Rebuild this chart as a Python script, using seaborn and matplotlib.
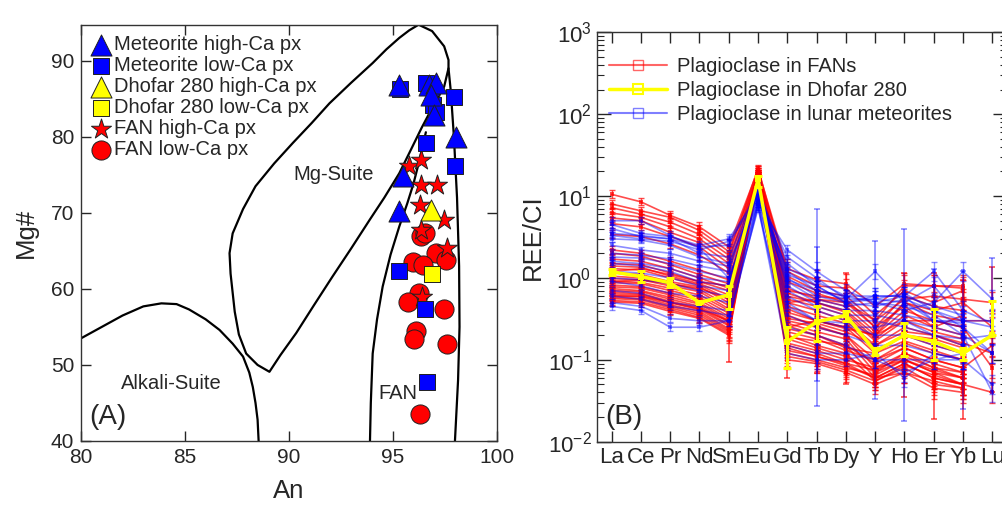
import numpy as np
import pandas as pd
import matplotlib
matplotlib.use("Agg")
import matplotlib.pyplot as plt
from matplotlib.lines import Line2D
import seaborn as sns

# ---------------- Panel A data ----------------
met_hi_an = [95.32, 96.76, 97.09, 96.85, 97.0, 98.05, 95.5, 95.29]
met_hi_mg = [86.8, 86.8, 87.1, 85.5, 82.9, 80.0, 74.8, 70.2]
met_lo_an = [95.35, 96.6, 97.97, 96.92, 97.09, 96.6, 98.0, 95.29, 96.56, 96.64]
met_lo_mg = [86.3, 87.1, 85.2, 84.2, 83.3, 79.2, 76.2, 62.3, 57.3, 47.8]
dho_hi_an = [96.85]
dho_hi_mg = [70.4]
dho_lo_an = [96.9]
dho_lo_mg = [62.0]
fan_hi_an = [95.8, 96.37, 96.37, 97.16, 96.32, 97.45, 96.37, 97.64, 96.4]
fan_hi_mg = [76.1, 77.0, 73.6, 73.6, 71.05, 69.1, 67.8, 65.4, 59.0]
fan_lo_an = [96.37, 96.55, 97.09, 97.57, 95.96, 96.44, 96.28, 95.72, 97.45, 96.12, 96.04, 97.64, 96.32]
fan_lo_mg = [66.9, 67.3, 64.7, 63.8, 63.5, 63.2, 59.4, 58.3, 57.3, 54.4, 53.4, 52.8, 43.5]

# field boundaries (An, Mg#)
mgs_an = [96.25, 96.9, 97.48, 97.69, 97.69, 97.48, 97.0, 96.4, 95.88, 95.32, 94.6, 93.9, 93.0,
          92.1, 91.2, 90.36, 89.6, 89.07, 88.5, 87.95, 87.6, 87.4, 87.2, 87.15, 87.3, 87.8,
          88.4, 89.3, 90.2, 91.1, 91.96, 93.0, 94.04, 94.7, 95.32, 95.8, 96.25]
mgs_mg = [94.74, 93.9, 91.9, 90.1, 89.0, 86.6, 84.3, 81.2, 78.3, 75.2, 72.0, 69.1, 65.3,
          61.6, 57.8, 54.2, 51.3, 49.1, 50.0, 51.5, 54.0, 57.0, 62.0, 64.7, 67.3, 70.5,
          73.5, 76.5, 79.2, 81.8, 84.4, 87.1, 89.7, 91.5, 93.0, 94.0, 94.74]
alk_an = [80.0, 81.0, 82.0, 83.0, 83.87, 84.6, 85.2, 86.0, 86.67, 87.3, 87.8, 88.1, 88.27, 88.4, 88.5, 88.55]
alk_mg = [53.5, 55.0, 56.5, 57.7, 58.1, 58.0, 57.3, 56.0, 54.6, 52.8, 51.1, 49.0, 47.1, 45.0, 42.8, 40.0]
fanl_an = [93.91, 93.95, 94.04, 94.25, 94.52, 94.9, 95.32, 95.7, 96.0, 96.3, 96.6]
fanl_mg = [40.0, 45.0, 51.5, 56.0, 60.3, 64.5, 68.2, 71.2, 73.8, 77.0, 80.6]
fanr_an = [97.69, 97.8, 97.95, 98.1, 98.2, 98.22, 98.15, 98.0]
fanr_mg = [89.0, 86.0, 80.0, 72.0, 63.0, 55.0, 48.0, 40.0]

# ---------------- Panel B data ----------------
elements = ["La", "Ce", "Pr", "Nd", "Sm", "Eu", "Gd", "Tb", "Dy", "Y", "Ho", "Er", "Yb", "Lu"]
nan = np.nan
fan_plag = [
    [10.5, 8.5, 5.8, 4.2, 2.4, 21, 1.3, 0.95, 0.85, 0.45, 0.85, 0.8, 0.8, nan],
    [8.0, 6.6, 5.5, 3.8, 2.1, 19, 1.2, 0.8, 0.75, 0.35, 0.7, 0.5, 0.7, nan],
    [7.2, 6.0, 4.8, 3.4, 1.9, 22, 1.05, 0.7, 0.6, 0.3, 0.55, 0.6, 0.55, 0.5],
    [6.2, 5.5, 4.2, 3.0, 1.7, 18, 0.9, 0.65, 0.5, 0.25, 0.6, 0.45, 0.4, nan],
    [5.4, 5.0, 3.6, 2.7, 1.5, 20, 0.75, 0.55, 0.45, 0.22, 0.5, 0.35, 0.3, 0.3],
    [4.6, 4.2, 3.2, 2.4, 1.3, 17, 0.65, 0.5, 0.4, 0.2, 0.4, 0.3, 0.25, nan],
    [3.4, 3.2, 2.6, 1.9, 1.15, 19, 0.6, 0.5, 0.38, 0.18, 0.35, 0.25, 0.2, nan],
    [2.2, 2.0, 1.6, 1.25, 0.95, 16, 0.55, 0.45, 0.35, 0.17, 0.3, 0.22, 0.18, nan],
    [2.0, 1.85, 1.45, 1.1, 0.85, 18, 0.5, 0.4, 0.3, 0.15, 0.22, 0.2, 0.16, 0.12],
    [1.7, 1.6, 1.3, 1.0, 0.75, 15, 0.45, 0.35, 0.28, 0.13, 0.2, 0.15, 0.12, nan],
    [1.5, 1.45, 1.15, 0.9, 0.7, 19, 0.42, 0.3, 0.25, 0.12, 0.17, 0.13, 0.1, nan],
    [1.4, 1.35, 1.05, 0.85, 0.62, 17, 0.38, 0.3, 0.24, 0.2, 0.3, 0.3, 0.25, 0.08],
    [1.3, 1.25, 1.0, 0.82, 0.55, 20, 0.35, 0.26, 0.2, 0.1, 0.14, 0.1, 0.08, nan],
    [1.15, 1.1, 0.9, 0.78, 0.5, 16, 0.32, 0.28, 0.22, 0.15, 0.25, 0.2, 0.15, nan],
    [1.05, 1.0, 0.85, 0.72, 0.46, 18, 0.3, 0.25, 0.2, 0.08, 0.12, 0.08, 0.06, nan],
    [0.98, 0.95, 0.8, 0.68, 0.42, 17, 0.28, 0.22, 0.18, 0.07, 0.1, 0.07, 0.05, 0.04],
    [0.92, 0.88, 0.75, 0.62, 0.4, 19, 0.26, 0.2, 0.15, 0.06, 0.09, 0.06, 0.05, nan],
    [0.88, 0.85, 0.7, 0.58, 0.37, 15, 0.24, 0.2, 0.14, 0.12, 0.2, 0.18, 0.14, nan],
    [0.82, 0.78, 0.65, 0.54, 0.34, 18, 0.22, 0.18, 0.13, 0.1, 0.16, 0.12, 0.1, nan],
    [0.78, 0.75, 0.62, 0.5, 0.32, 16, 0.2, 0.15, 0.12, 0.055, 0.08, 0.05, 0.045, nan],
    [0.74, 0.7, 0.58, 0.48, 0.3, 20, 0.19, 0.17, 0.15, 0.09, 0.14, 0.1, 0.08, 0.15],
    [0.7, 0.68, 0.55, 0.45, 0.29, 17, 0.18, 0.14, 0.11, 0.07, 0.12, 0.09, 0.07, nan],
    [0.67, 0.64, 0.52, 0.43, 0.27, 18, 0.16, 0.13, 0.1, 0.08, 0.1, 0.07, 0.06, nan],
    [0.64, 0.62, 0.5, 0.41, 0.26, 16, 0.15, 0.12, 0.09, 0.06, 0.09, 0.06, 0.05, nan],
    [0.61, 0.59, 0.47, 0.39, 0.24, 19, 0.14, 0.11, 0.085, 0.06, 0.07, 0.045, 0.04, nan],
    [0.58, 0.56, 0.45, 0.37, 0.23, 17, 0.13, 0.11, 0.09, 0.075, 0.11, 0.08, 0.07, nan],
    [0.56, 0.54, 0.43, 0.35, 0.22, 15, 0.12, 0.1, 0.08, 0.065, 0.1, 0.075, 0.06, nan],
    [0.53, 0.51, 0.41, 0.33, 0.21, 18, 0.11, 0.095, 0.075, 0.055, 0.085, 0.065, 0.05, nan],
    [0.51, 0.49, 0.39, 0.32, 0.2, 16, 0.1, 0.09, 0.07, 0.05, 0.07, 0.055, 0.045, nan],
    [0.6, 0.6, 0.5, 0.42, 0.3, 14, 0.25, 0.3, 0.25, 0.2, 0.5, 0.4, 0.5, 0.25],
    [0.9, 0.95, 0.85, 0.75, 0.55, 21, 0.5, 0.55, 0.5, 0.3, 0.8, 0.8, 0.75, nan],
    [1.2, 1.3, 1.1, 0.9, 0.8, 18, 0.7, 0.6, 0.55, 0.25, 0.45, 0.25, 0.35, nan],
]
met_plag = [
    [5.0, 5.0, 3.3, 2.3, 1.0, 8, 2.2, 1.2, 0.7, 0.5, 0.6, 0.3, 0.25, 0.12],
    [4.5, 3.5, 3.2, 2.5, 3.0, 10, 1.8, 1.0, 0.55, 1.2, 0.5, 0.8, 0.3, nan],
    [4.0, 3.2, 3.0, 2.0, 1.8, 12, 1.5, 0.8, 0.5, 0.6, 0.6, 1.2, 0.4, 0.28],
    [3.3, 3.0, 2.8, 2.2, 2.8, 9, 1.3, 0.9, 0.6, 0.5, 0.4, 0.5, 1.2, 0.55],
    [3.0, 2.9, 2.5, 1.8, 1.5, 11, 1.2, 0.7, 0.55, 0.55, 0.5, 0.3, 0.3, 0.3],
    [3.5, 3.3, 3.0, 2.4, 2.5, 12, 1.1, 0.8, 0.5, 0.55, 0.65, 0.4, 0.3, 0.25],
    [2.5, 2.2, 2.0, 1.6, 1.4, 11, 0.95, 0.7, 0.6, 0.6, 0.6, 0.45, 0.35, nan],
    [2.0, 1.9, 1.7, 1.4, 1.2, 13, 1.0, 0.6, 0.5, 0.45, 0.55, 0.4, 0.25, nan],
    [1.8, 1.75, 1.5, 1.2, 1.0, 9, 0.9, 0.55, 0.45, 0.5, 0.45, 0.35, 0.2, 0.04],
    [1.6, 1.5, 1.3, 1.0, 0.9, 12, 0.8, 0.5, 0.4, 0.4, 0.35, 0.3, 0.28, nan],
    [1.5, 1.4, 1.2, 0.9, 0.8, 14, 0.7, 0.45, 0.35, 0.35, 0.3, 0.25, 0.2, 0.12],
    [1.2, 1.15, 1.0, 0.8, 0.7, 10, 0.6, 0.4, 0.3, 0.3, 0.25, 0.2, 0.15, nan],
    [1.0, 0.95, 0.85, 0.7, 0.6, 11, 0.5, 0.3, 0.28, 0.2, 0.2, 0.15, 0.12, nan],
    [0.9, 0.8, 0.65, 0.6, 0.5, 8, 0.45, 0.3, 0.25, 0.25, 0.3, 0.2, 0.18, 0.2],
    [0.7, 0.65, 0.5, 0.45, 0.4, 9, 0.35, 0.25, 0.2, 0.15, 0.15, 0.12, 0.1, nan],
    [0.6, 0.55, 0.45, 0.4, 0.35, 7, 0.25, 0.2, 0.15, 0.1, 0.1, 0.1, 0.12, nan],
    [0.5, 0.45, 0.32, 0.3, 0.3, 8, 0.15, 0.12, 0.12, 0.1, 0.07, 0.1, 0.1, nan],
    [0.45, 0.4, 0.25, 0.25, 0.3, 7.5, 0.12, 0.1, 0.1, 0.12, 0.06, 0.12, 0.1, 0.05],
]
dhofar_plag = [1.19, 1.04, 0.87, 0.50, 0.62, 16.0, 0.167, 0.29, 0.35, 0.126, 0.20, 0.167, 0.12, 0.20]
dhofar_lo = [1.08, 0.9, 0.78, 0.50, 0.42, 13.0, 0.08, 0.17, 0.30, 0.115, 0.11, 0.10, 0.10, 0.20]
dhofar_hi = [1.30, 1.20, 1.00, 0.50, 0.80, 17.5, 0.25, 0.45, 0.40, 0.14, 0.28, 0.42, 0.14, 0.52]
# typical relative uncertainty per element
fan_relerr = [0.12, 0.1, 0.12, 0.15, 0.25, 0.1, 0.3, 0.3, 0.3, 0.3, 0.35, 0.35, 0.35, 0.35]
met_relerr = [0.1, 0.1, 0.12, 0.12, 0.15, 0.1, 0.15, 0.3, 0.2, 0.25, 0.3, 0.3, 0.3, 0.3]
# large individual error bars: element index, value, low, high
fan_big = [(4, 0.2, 0.095, 0.3), (6, 0.1, 0.06, 0.15), (7, 0.5, 0.07, 1.0), (8, 0.3, 0.05, 1.15),
           (9, 0.08, 0.05, 0.3), (10, 0.3, 0.035, 1.15), (11, 0.2, 0.019, 1.14),
           (12, 0.2, 0.019, 0.95), (13, 0.25, 0.04, 1.35)]
met_big = [(7, 0.8, 0.027, 6.9), (7, 0.5, 0.055, 2.4), (9, 0.5, 0.033, 2.8), (10, 0.6, 0.018, 4.0),
           (11, 0.8, 0.1, 1.29), (12, 0.3, 0.025, 1.2), (13, 0.55, 0.4, 1.77)]

# ---------------- style ----------------
sns.set_style("ticks")
plt.rcParams["font.family"] = ["Liberation Sans", "DejaVu Sans"]
plt.rcParams["mathtext.fontset"] = "custom"
plt.rcParams["mathtext.rm"] = "Liberation Sans"
plt.rcParams["mathtext.it"] = "Liberation Sans:italic"
plt.rcParams["axes.linewidth"] = 1.0
plt.rcParams["axes.edgecolor"] = "#333333"

fig = plt.figure(figsize=(10.03, 5.09), dpi=100)
W, H = 1003.0, 509.0
axA = fig.add_axes([81 / W, 1 - 441 / H, 415.5 / W, 416 / H])
axB = fig.add_axes([597 / W, 1 - 441.7 / H, 410 / W, 409.4 / H])

# ---------------- Panel A ----------------
for xs, ys in [(mgs_an, mgs_mg), (alk_an, alk_mg), (fanl_an, fanl_mg), (fanr_an, fanr_mg)]:
    axA.plot(xs, ys, color="black", lw=1.6, solid_joinstyle="round", zorder=1)

def scat(x, y, marker, s, color, label, z):
    sns.scatterplot(x=x, y=y, marker=marker, s=s, color=color, edgecolor="#202020",
                    linewidth=0.7, ax=axA, zorder=z, legend=False)
    coll = axA.collections[-1]
    coll.set_label(label)
    return coll

h_fl = scat(fan_lo_an, fan_lo_mg, "o", 190, "#ff0000", "FAN low-Ca px", 3)
h_fh = scat(fan_hi_an, fan_hi_mg, "*", 230, "#ff0000", "FAN high-Ca px", 4)
h_ml = scat(met_lo_an, met_lo_mg, "s", 120, "#0000ff", "Meteorite low-Ca px", 5)
h_mh = scat(met_hi_an, met_hi_mg, "^", 230, "#0000ff", "Meteorite high-Ca px", 6)
h_dl = scat(dho_lo_an, dho_lo_mg, "s", 120, "#ffff00", "Dhofar 280 low-Ca px", 7)
h_dh = scat(dho_hi_an, dho_hi_mg, "^", 230, "#ffff00", "Dhofar 280 high-Ca px", 8)

legA = axA.legend(handles=[h_mh, h_ml, h_dh, h_dl, h_fh, h_fl],
                  labels=["Meteorite high-Ca px", "Meteorite low-Ca px", "Dhofar 280 high-Ca px",
                          "Dhofar 280 low-Ca px", "FAN high-Ca px", "FAN low-Ca px"],
                  loc="upper left", bbox_to_anchor=(0.0, 1.0), frameon=False, fontsize=14.5,
                  handlelength=1.0, handletextpad=0.15, labelspacing=0.1, borderaxespad=0.2,
                  borderpad=0.3, scatterpoints=1)

axA.text(92.15, 75.0, "Mg-Suite", fontsize=14.5, ha="center", va="center")
axA.text(84.35, 47.5, "Alkali-Suite", fontsize=14.5, ha="center", va="center")
axA.text(95.23, 46.3, "FAN", fontsize=14.5, ha="center", va="center")
axA.text(80.4, 43.2, "(A)", fontsize=20, ha="left", va="center")

axA.set_xlim(80, 100)
axA.set_ylim(40, 94.7)
axA.set_xticks([80, 85, 90, 95, 100])
axA.set_yticks([40, 50, 60, 70, 80, 90])
axA.tick_params(direction="in", length=7, width=1, top=True, right=True, labelsize=15, pad=5)
axA.set_xlabel("An", fontsize=18.5, labelpad=9)
axA.set_ylabel("Mg#", fontsize=18.5, labelpad=9)

# ---------------- Panel B ----------------
axB.set_yscale("log")
pos = np.arange(len(elements))

def long_df(rows):
    recs = []
    for i, r in enumerate(rows):
        for j, v in enumerate(r):
            if not np.isnan(v):
                recs.append((i, j, v))
    return pd.DataFrame(recs, columns=["sample", "pos", "val"])

df_fan = long_df(fan_plag)
df_met = long_df(met_plag)

def draw_group(df, rows, relerr, big, color, alpha, z):
    sns.lineplot(data=df, x="pos", y="val", units="sample", estimator=None, sort=False,
                 color=color, alpha=alpha, lw=1.2, marker="s", markersize=2.5,
                 markeredgewidth=0, ax=axB, legend=False, zorder=z)
    arr = np.array(rows, dtype=float)
    for j in range(arr.shape[1]):
        v = arr[:, j]
        v = v[~np.isnan(v)]
        f = relerr[j]
        axB.errorbar(np.full(len(v), j), v, yerr=[v * f / (1 + f), v * f], fmt="none",
                     ecolor=color, alpha=alpha, elinewidth=1.0, capsize=2, capthick=1.0, zorder=z)
    for (j, c, lo, hi) in big:
        axB.errorbar([j], [c], yerr=[[c - lo], [hi - c]], fmt="none", ecolor=color, alpha=alpha,
                     elinewidth=1.2, capsize=2.5, capthick=1.2, zorder=z)

draw_group(df_fan, fan_plag, fan_relerr, fan_big, "#ff0000", 0.7, 2)
draw_group(df_met, met_plag, met_relerr, met_big, "#0000ff", 0.45, 3)

dh = np.array(dhofar_plag)
axB.errorbar(pos, dh, yerr=[dh - np.array(dhofar_lo), np.array(dhofar_hi) - dh], fmt="none",
             ecolor="#ffff00", elinewidth=2.2, capsize=3, capthick=2.2, zorder=5)
sns.lineplot(x=pos, y=dh, color="#ffff00", lw=2.5, marker="s", markersize=4,
             markeredgewidth=0, ax=axB, legend=False, zorder=6)

axB.set_xlim(-0.5, 13.5)
axB.set_ylim(1e-2, 1e3)
axB.set_xticks(pos)
axB.set_xticklabels(elements)
axB.tick_params(axis="x", direction="in", length=8, width=1, top=True, labelsize=16, pad=4)
axB.tick_params(axis="y", which="major", direction="in", length=10, width=1, right=True,
                labelsize=16, pad=4)
axB.tick_params(axis="y", which="minor", direction="in", length=5, width=0.8, right=True)
axB.yaxis.set_major_locator(matplotlib.ticker.LogLocator(base=10, numticks=10))
axB.yaxis.set_minor_locator(matplotlib.ticker.LogLocator(base=10, subs=np.arange(2, 10), numticks=20))
axB.set_xlabel("")
axB.set_ylabel("REE/CI", fontsize=18.5, labelpad=2)
axB.text(0.02, 0.06, "(B)", transform=axB.transAxes, fontsize=20, ha="left", va="center")

hB = [Line2D([], [], color="#ff0000", alpha=0.6, lw=1.5, marker="s", ms=7, mfc="none", mew=1),
      Line2D([], [], color="#ffff00", lw=2.5, marker="s", ms=7, mfc="none", mew=1.5),
      Line2D([], [], color="#0000ff", alpha=0.5, lw=1.5, marker="s", ms=7, mfc="none", mew=1)]
axB.legend(handles=hB, labels=["Plagioclase in FANs", "Plagioclase in Dhofar 280",
                               "Plagioclase in lunar meteorites"],
           loc="upper left", bbox_to_anchor=(0.0, 0.97), frameon=False, fontsize=14.5,
           handlelength=2.9, handletextpad=0.45, labelspacing=0.25, borderaxespad=0.2)

fig.savefig("out.png", dpi=100)
